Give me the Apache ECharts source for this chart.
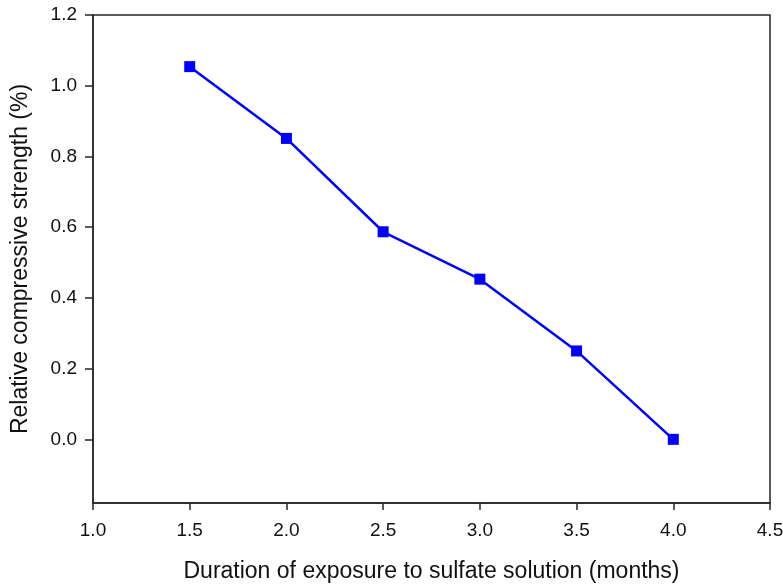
<!DOCTYPE html>
<html>
<head>
<meta charset="utf-8">
<script src="https://cdn.jsdelivr.net/npm/echarts@6/dist/echarts.min.js"></script>
<style>html,body{margin:0;padding:0;background:#fff;}#chart{width:783px;height:586px;}</style>
</head>
<body>
<div id="chart"></div>
<script>
const months = [1.5, 2.0, 2.5, 3.0, 3.5, 4.0];
const strength = [1.054, 0.851, 0.587, 0.453, 0.250, 0.0];
const yTicks = [0, 0.2, 0.4, 0.6, 0.8, 1.0, 1.2];

const font = '"Liberation Sans", Arial, sans-serif';
const axisColor = '#262626';
const chart = echarts.init(document.getElementById('chart'));
chart.setOption({
  animation: false,
  grid: {left: 93, right: 13, top: 15, bottom: 83, outerBoundsMode: 'none', containLabel: false, show: true, borderColor: axisColor, borderWidth: 1.5, backgroundColor: 'transparent'},
  xAxis: {
    type: 'value', min: 1.0, max: 4.5, interval: 0.5,
    name: 'Duration of exposure to sulfate solution (months)',
    nameLocation: 'middle', nameGap: 57,
    nameTextStyle: {fontFamily: font, fontSize: 23, color: '#111'},
    axisLine: {show: true, onZero: false, lineStyle: {color: axisColor, width: 1.5}},
    axisTick: {show: true, length: 7, inside: false, lineStyle: {color: axisColor, width: 1.5}},
    axisLabel: {fontFamily: font, fontSize: 19, color: '#111', margin: 18, formatter: v => v.toFixed(1)},
    splitLine: {show: false}
  },
  yAxis: {
    type: 'value', min: -0.18, max: 1.2,
    name: 'Relative compressive strength (%)',
    nameLocation: 'middle', nameGap: 61,
    nameTextStyle: {fontFamily: font, fontSize: 23, color: '#111'},
    axisLine: {show: true, onZero: false, lineStyle: {color: axisColor, width: 1.5}},
    axisTick: {show: true, length: 8, inside: false, customValues: yTicks, lineStyle: {color: axisColor, width: 1.5}},
    axisLabel: {fontFamily: font, fontSize: 19, color: '#111', margin: 16, customValues: yTicks, formatter: v => v.toFixed(1)},
    splitLine: {show: false}
  },
  series: [{
    type: 'line',
    data: months.map((m, i) => [m, strength[i]]),
    symbol: 'rect', symbolSize: 11,
    lineStyle: {color: '#0000ff', width: 2.5},
    itemStyle: {color: '#0000ff'},
    clip: false
  }]
});
</script>
</body>
</html>
